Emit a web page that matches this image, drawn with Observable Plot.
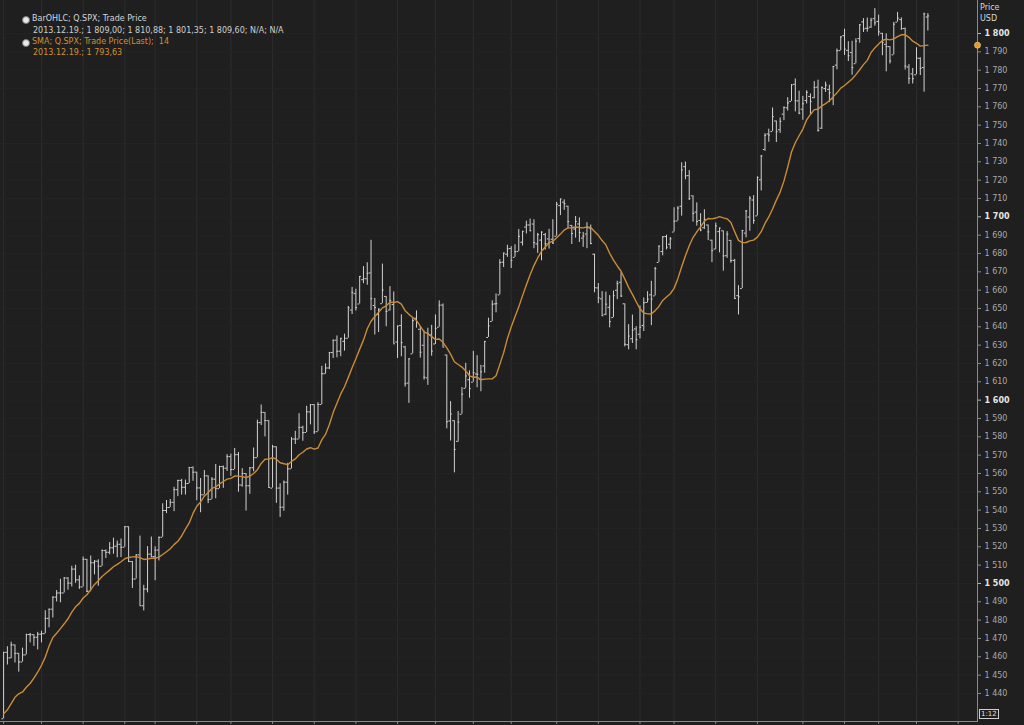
<!DOCTYPE html>
<html>
<head>
<meta charset="utf-8">
<script src="https://cdn.jsdelivr.net/npm/d3@7"></script>
<script src="https://cdn.jsdelivr.net/npm/@observablehq/plot@0.6"></script>
<style>
html, body { margin: 0; padding: 0; background: #1f1f1f; }
#wrap { position: relative; width: 1024px; height: 725px; background: #1f1f1f; overflow: hidden; font-family: "DejaVu Sans", sans-serif; }
#wrap svg { position: absolute; left: 0; top: 0; }
.lg { position: absolute; font-size: 8px; line-height: 10px; white-space: pre; }
.ic { position: absolute; width: 6px; height: 6px; border-radius: 50%; }
</style>
</head>
<body>
<div id="wrap"></div>
<script>
// S&P 500 (Q.SPX) daily bars, 2013-01-02 .. 2013-12-19, one entry per trading day
const opens = [
  1426.19,1462.42,1459.37,1466.47,1461.89,1457.15,1461.02,1472.12,1472.05,1470.67,1472.33,1472.63,1480.95,1485.98,1492.56,1494.81,1494.82,1502.96,1500.18,1507.84,1501.96,
  1498.11,1513.17,1495.71,1511.29,1512.12,1509.39,1517.93,1517.01,1519.43,1520.33,1521.38,1519.79,1530.94,1511.95,1502.42,1515.60,1487.85,1496.94,1515.99,
  1514.68,1518.20,1525.20,1539.79,1541.46,1544.26,1551.15,1556.22,1552.48,1554.52,1563.21,1560.70,1552.10,1548.34,1558.71,1545.90,1556.89,1551.69,1563.75,1562.86,
  1569.18,1562.17,1570.25,1553.69,1559.98,1553.26,1563.11,1568.61,1587.73,1593.30,1588.84,1552.01,1574.57,1552.03,1541.61,1555.25,1562.50,1578.78,1578.78,1585.16,1582.34,1593.58,
  1597.55,1582.77,1597.60,1614.40,1617.55,1625.95,1632.69,1626.69,1632.10,1633.75,1649.13,1658.07,1652.45,1665.71,1666.20,1669.39,1651.62,1646.67,1652.63,1656.57,1649.14,1652.13,
  1631.71,1640.73,1629.05,1609.29,1625.27,1644.67,1638.64,1629.94,1612.15,1635.52,1630.64,1639.77,1651.83,1624.62,1588.62,1588.77,1577.52,1592.27,1606.44,1611.12,
  1609.78,1614.29,1611.48,1618.65,1634.20,1642.89,1652.50,1657.41,1675.26,1679.59,1682.70,1677.91,1681.05,1686.15,1694.41,1695.53,1696.06,1685.21,1687.31,1690.32,1687.92,1687.76,
  1689.42,1706.10,1708.01,1705.79,1695.30,1693.35,1696.10,1688.37,1690.65,1693.88,1679.61,1661.22,1655.25,1646.81,1650.66,1645.03,1659.92,1664.29,1652.54,1630.25,1633.50,1638.89,
  1635.95,1640.72,1653.28,1657.44,1656.85,1675.11,1681.04,1689.21,1685.04,1691.70,1697.73,1705.74,1727.34,1722.44,1711.44,1702.60,1698.02,1694.05,1695.52,1687.26,
  1682.41,1691.90,1692.35,1678.79,1687.15,1676.22,1656.99,1660.88,1691.09,1699.86,1709.17,1700.49,1720.17,1736.72,1745.20,1746.48,1752.27,1747.48,1756.01,1759.42,1762.93,1772.27,1763.24,
  1758.70,1763.40,1765.67,1765.00,1770.74,1748.37,1769.96,1769.51,1764.37,1782.75,1790.66,1798.82,1790.79,1789.59,1783.52,1797.21,1806.33,1802.87,1803.48,1808.09,
  1806.55,1800.10,1794.08,1792.82,1788.36,1806.21,1807.60,1802.76,1781.71,1777.98,1777.48,1786.47,1781.46,1809.00
];
const highs = [
  1462.43,1465.47,1467.94,1466.47,1461.89,1464.73,1472.30,1472.75,1472.05,1473.31,1473.96,1485.16,1485.98,1492.56,1496.13,1502.27,1503.26,1503.23,1509.35,1509.94,1504.19,
  1514.41,1513.17,1514.96,1512.53,1512.90,1518.31,1518.31,1522.29,1524.69,1523.14,1524.24,1530.94,1530.94,1511.95,1515.64,1525.84,1498.99,1520.08,1525.34,
  1519.99,1525.27,1543.47,1545.25,1545.78,1552.48,1556.27,1556.77,1556.39,1563.32,1563.62,1560.70,1557.25,1561.56,1558.71,1557.74,1564.91,1563.95,1564.07,1570.28,
  1570.57,1573.66,1571.47,1562.60,1559.98,1563.07,1573.89,1589.07,1597.35,1593.30,1588.84,1575.35,1574.57,1554.38,1555.89,1565.55,1579.58,1583.00,1592.64,1585.78,1596.65,1597.57,
  1597.55,1598.60,1618.46,1619.77,1626.03,1632.78,1635.01,1633.70,1636.00,1651.10,1661.49,1660.51,1667.47,1672.84,1674.93,1687.18,1655.50,1649.78,1674.21,1656.57,1661.91,1658.99,
  1640.42,1646.53,1629.31,1622.56,1644.40,1648.69,1640.13,1637.71,1639.25,1640.80,1646.50,1654.19,1652.45,1624.62,1599.19,1588.77,1593.79,1606.83,1620.07,1615.94,
  1626.61,1624.26,1618.97,1632.07,1644.68,1654.18,1657.92,1676.63,1680.19,1684.51,1683.73,1684.75,1693.12,1692.09,1697.61,1698.78,1698.38,1690.94,1691.85,1690.92,1693.19,1698.43,
  1707.85,1709.67,1709.24,1705.79,1695.30,1700.18,1699.42,1691.49,1696.81,1695.52,1679.61,1663.60,1659.18,1658.92,1656.99,1659.55,1664.85,1669.51,1652.54,1641.18,1646.41,1640.08,
  1651.35,1655.72,1659.17,1664.83,1672.40,1684.09,1689.13,1689.97,1688.73,1704.95,1705.52,1729.44,1729.86,1725.23,1711.44,1707.63,1701.71,1703.85,1695.52,1687.26,
  1696.55,1693.87,1692.35,1691.94,1687.15,1676.79,1662.47,1692.56,1703.44,1711.03,1711.57,1721.76,1733.45,1745.31,1747.79,1759.33,1752.27,1753.94,1759.82,1764.99,1772.09,1775.22,1768.53,
  1765.67,1768.78,1767.03,1773.74,1774.54,1770.78,1773.44,1771.78,1782.00,1791.53,1798.22,1802.33,1795.51,1795.73,1797.16,1804.84,1808.10,1808.42,1808.27,1813.55,
  1810.02,1800.10,1799.80,1792.82,1806.04,1811.52,1808.52,1802.97,1782.99,1780.92,1792.22,1786.77,1811.08,1810.88
];
const lows = [
  1426.19,1455.53,1458.99,1456.62,1451.64,1457.15,1461.02,1467.58,1465.69,1463.76,1467.60,1472.63,1475.81,1481.16,1489.90,1489.46,1494.82,1496.33,1498.09,1500.11,1496.76,
  1498.11,1495.02,1495.71,1504.71,1498.49,1509.39,1513.61,1515.61,1515.93,1514.02,1514.14,1519.79,1511.41,1497.29,1502.42,1487.85,1485.01,1494.88,1514.46,
  1501.48,1512.29,1525.20,1538.11,1541.46,1539.19,1547.36,1548.24,1548.25,1554.52,1555.74,1545.13,1538.57,1548.34,1543.55,1545.90,1546.22,1551.69,1551.90,1561.08,
  1558.47,1562.17,1549.80,1552.52,1539.50,1548.63,1560.92,1568.61,1586.17,1579.97,1552.28,1552.01,1543.69,1536.03,1539.40,1548.19,1562.50,1575.80,1578.78,1577.56,1582.34,1586.50,
  1581.28,1582.77,1597.60,1614.21,1616.64,1622.70,1623.09,1623.71,1626.74,1633.75,1646.68,1648.60,1652.45,1663.52,1662.67,1648.86,1635.53,1636.88,1652.63,1640.05,1648.61,1630.74,
  1622.72,1623.62,1607.09,1598.23,1625.27,1639.26,1622.92,1610.92,1608.07,1623.96,1630.34,1639.77,1628.91,1584.32,1577.70,1560.33,1577.09,1592.27,1606.44,1601.06,
  1609.78,1606.77,1604.57,1614.71,1634.20,1642.89,1647.66,1657.41,1672.33,1677.89,1671.84,1677.91,1681.05,1684.08,1690.67,1691.93,1682.57,1680.07,1676.03,1681.86,1682.42,1684.94,
  1689.42,1700.68,1703.55,1693.29,1684.91,1688.38,1686.02,1683.35,1682.62,1684.83,1658.59,1652.61,1645.84,1646.08,1639.43,1645.03,1654.81,1656.02,1629.05,1627.47,1630.88,1627.47,
  1633.41,1637.41,1653.07,1640.62,1656.85,1675.11,1678.70,1681.96,1682.22,1691.70,1697.73,1700.35,1720.20,1708.89,1697.10,1694.90,1691.88,1693.11,1687.11,1674.99,
  1682.07,1680.34,1670.36,1677.33,1674.70,1655.03,1646.47,1660.88,1688.52,1692.13,1695.93,1700.49,1714.12,1735.74,1740.67,1746.48,1740.50,1745.50,1752.45,1757.67,1762.93,1757.24,1755.72,
  1752.70,1761.56,1755.76,1764.40,1746.20,1747.63,1767.85,1762.29,1760.64,1780.22,1790.66,1788.00,1784.72,1777.23,1783.52,1794.70,1800.58,1800.77,1802.77,1803.98,
  1798.60,1787.85,1779.09,1783.38,1788.36,1806.21,1801.75,1780.09,1772.28,1772.45,1777.48,1777.05,1767.99,1801.35
];
const closes = [
  1462.42,1459.37,1466.47,1461.89,1457.15,1461.02,1472.12,1472.05,1470.68,1472.34,1472.63,1480.94,1485.98,1492.56,1494.81,1494.82,1502.96,1500.18,1507.84,1501.96,1498.11,
  1513.17,1495.71,1511.29,1512.12,1509.39,1517.93,1517.01,1519.43,1520.33,1521.38,1519.79,1530.94,1511.95,1502.42,1515.60,1487.85,1496.94,1515.99,1514.68,
  1518.20,1525.20,1539.79,1541.46,1544.26,1551.18,1556.22,1552.48,1554.52,1563.23,1560.70,1552.10,1548.34,1558.71,1545.80,1556.89,1551.69,1563.77,1562.85,1569.19,
  1562.17,1570.25,1553.69,1559.98,1553.28,1563.07,1568.61,1587.73,1593.37,1588.85,1552.36,1574.57,1552.01,1541.61,1555.25,1562.50,1578.78,1578.79,1585.16,1582.24,1593.61,1597.57,
  1582.70,1597.59,1614.42,1617.50,1625.96,1632.69,1626.67,1633.70,1633.77,1650.34,1658.78,1650.47,1667.47,1666.29,1669.16,1655.35,1650.51,1649.60,1660.06,1648.36,1654.41,1630.74,
  1640.42,1631.38,1608.90,1622.56,1643.38,1642.81,1626.13,1612.52,1636.36,1626.73,1639.04,1651.81,1628.93,1588.19,1592.43,1573.09,1588.03,1603.26,1613.20,1606.28,
  1614.96,1614.08,1615.41,1631.89,1640.46,1652.32,1652.62,1675.02,1680.19,1682.50,1676.26,1680.91,1689.37,1692.09,1695.53,1692.39,1685.94,1690.25,1691.65,1685.33,1685.96,1685.73,
  1706.87,1709.67,1707.14,1697.37,1690.91,1697.48,1691.42,1689.47,1694.16,1685.39,1661.32,1655.83,1646.06,1652.35,1642.80,1656.96,1663.50,1656.78,1630.48,1634.96,1638.17,1632.97,
  1639.77,1653.08,1655.08,1655.17,1671.71,1683.99,1689.13,1683.42,1687.99,1697.60,1704.76,1725.52,1722.34,1709.91,1701.84,1697.42,1692.77,1698.67,1691.75,1681.55,
  1695.00,1693.87,1678.66,1690.50,1676.12,1655.45,1656.40,1692.56,1703.20,1710.14,1698.06,1721.54,1733.15,1744.50,1744.66,1754.67,1746.38,1752.07,1759.77,1762.11,1771.95,1763.31,1756.54,
  1761.64,1767.93,1762.97,1770.49,1747.15,1770.61,1771.89,1767.69,1782.00,1790.62,1798.18,1791.53,1787.87,1781.37,1795.85,1804.76,1802.48,1802.75,1807.23,1805.81,
  1800.90,1795.15,1792.81,1785.03,1805.09,1808.37,1802.62,1782.22,1775.50,1775.32,1786.54,1781.00,1810.65,1809.60
];
// the 13 closes before the first bar (Dec 2012), needed for the 14-day SMA
const priorCloses = [1428.48,1419.45,1413.58,1430.36,1446.79,1435.81,1443.69,1430.15,1426.66,1419.83,1418.10,1402.43,1426.19];
const smaPeriod = 14;
const smaLast = 1793.63;
// trading-day positions of the half-month ticks (1st and 16th of each month)
const xTicks = [0,10,21,32,40,51,60,71,82,93,104,114,124,134,146,157,168,177,188,199,211,222,231,241,252];
const yTicks = d3.range(1440, 1801, 10);
const legendLines = [
  {text: "BarOHLC; Q.SPX; Trade Price", color: "#d6d6d6", icon: "#e8e8e8"},
  {text: "2013.12.19.; 1 809,00; 1 810,88; 1 801,35; 1 809,60; N/A; N/A", color: "#cfcfcf", icon: null},
  {text: "SMA; Q.SPX; Trade Price(Last);  14", color: "#d08f35", icon: "#e8e8e8"},
  {text: "2013.12.19.; 1 793,63", color: "#d08f35", icon: null}
];

const bars = closes.map((c, i) => ({i, open: opens[i], high: highs[i], low: lows[i], close: c}));
const smaSeries = priorCloses.concat(closes).map((c, k) => ({i: k - priorCloses.length, close: c}));

const fmt = d => d3.format(",")(d).replace(/,/g, " ");
const barColor = "#d2d2d2";
const smaColor = "#c98c38";

const chart = Plot.plot({
  width: 1024,
  height: 725,
  marginLeft: 0,
  marginTop: 0,
  marginRight: 47,
  marginBottom: 4,
  style: {background: "transparent", fontFamily: "DejaVu Sans, sans-serif", fontSize: "8px", color: "#b0b0b0"},
  x: {type: "linear", domain: [-0.82, 257.1]},
  y: {domain: [1424.7, 1818]},
  marks: [
    Plot.gridX(xTicks, {stroke: "#2d2d2d", strokeOpacity: 1}),
    Plot.gridY(yTicks, {stroke: "#242424", strokeOpacity: 1}),
    Plot.ruleX(bars, {x: "i", y1: "low", y2: "high", stroke: barColor, strokeWidth: 1, clip: true}),
    Plot.ruleY(bars, {y: "open", x1: d => d.i - 0.45, x2: "i", stroke: barColor, strokeWidth: 1, clip: true}),
    Plot.ruleY(bars, {y: "close", x1: "i", x2: d => d.i + 0.45, stroke: barColor, strokeWidth: 1, clip: true}),
    Plot.lineY(smaSeries, Plot.windowY({k: smaPeriod, anchor: "end", strict: true}, {x: "i", y: "close", stroke: smaColor, strokeWidth: 1.4, clip: true})),
    Plot.frame({anchor: "right", stroke: "#8a8a8a"}),
    Plot.frame({anchor: "bottom", stroke: "#8a8a8a"}),
    Plot.axisX(xTicks, {anchor: "bottom", tickSize: 3, tickFormat: () => "", stroke: "#8a8a8a", label: null}),
    Plot.axisY(yTicks.filter(d => d % 100 !== 0), {anchor: "right", tickSize: 3, tickPadding: 4, tickFormat: fmt, fill: "#a9a9a9", stroke: "#8a8a8a", fontSize: 8, label: null}),
    Plot.axisY(yTicks.filter(d => d % 100 === 0), {anchor: "right", tickSize: 3, tickPadding: 4, tickFormat: fmt, fill: "#e6e6e6", stroke: "#bbbbbb", fontSize: 8, fontWeight: "bold", label: null}),
    Plot.dot([smaLast], {y: d => d, frameAnchor: "right", r: 3, fill: "#e09a30", stroke: "#f0c070", strokeWidth: 0.8})
  ]
});

const wrap = document.getElementById("wrap");
wrap.appendChild(chart);

const tops = [14, 26, 37, 48];
legendLines.forEach((l, k) => {
  if (l.icon) {
    const ic = document.createElement("div");
    ic.className = "ic";
    ic.style.left = "22px";
    ic.style.top = (tops[k] + 2) + "px";
    ic.style.background = l.icon;
    ic.style.border = "1px solid #777";
    wrap.appendChild(ic);
  }
  const t = document.createElement("div");
  t.className = "lg";
  t.style.left = (l.icon ? 32 : 33) + "px";
  t.style.top = tops[k] + "px";
  t.style.color = l.color;
  t.textContent = l.text;
  wrap.appendChild(t);
});

const unit1 = document.createElement("div");
unit1.className = "lg";
unit1.style.cssText += "left:980px;top:3px;color:#d8d8d8;";
unit1.textContent = "Price";
wrap.appendChild(unit1);
const unit2 = document.createElement("div");
unit2.className = "lg";
unit2.style.cssText += "left:980px;top:14px;color:#d8d8d8;";
unit2.textContent = "USD";
wrap.appendChild(unit2);

const zoomBox = document.createElement("div");
zoomBox.className = "lg";
zoomBox.style.cssText += "left:979px;top:709px;color:#e0e0e0;border:1px solid #cfcfcf;font-size:7px;line-height:8px;padding:0 1px;";
zoomBox.textContent = "1:12";
wrap.appendChild(zoomBox);
</script>
</body>
</html>
